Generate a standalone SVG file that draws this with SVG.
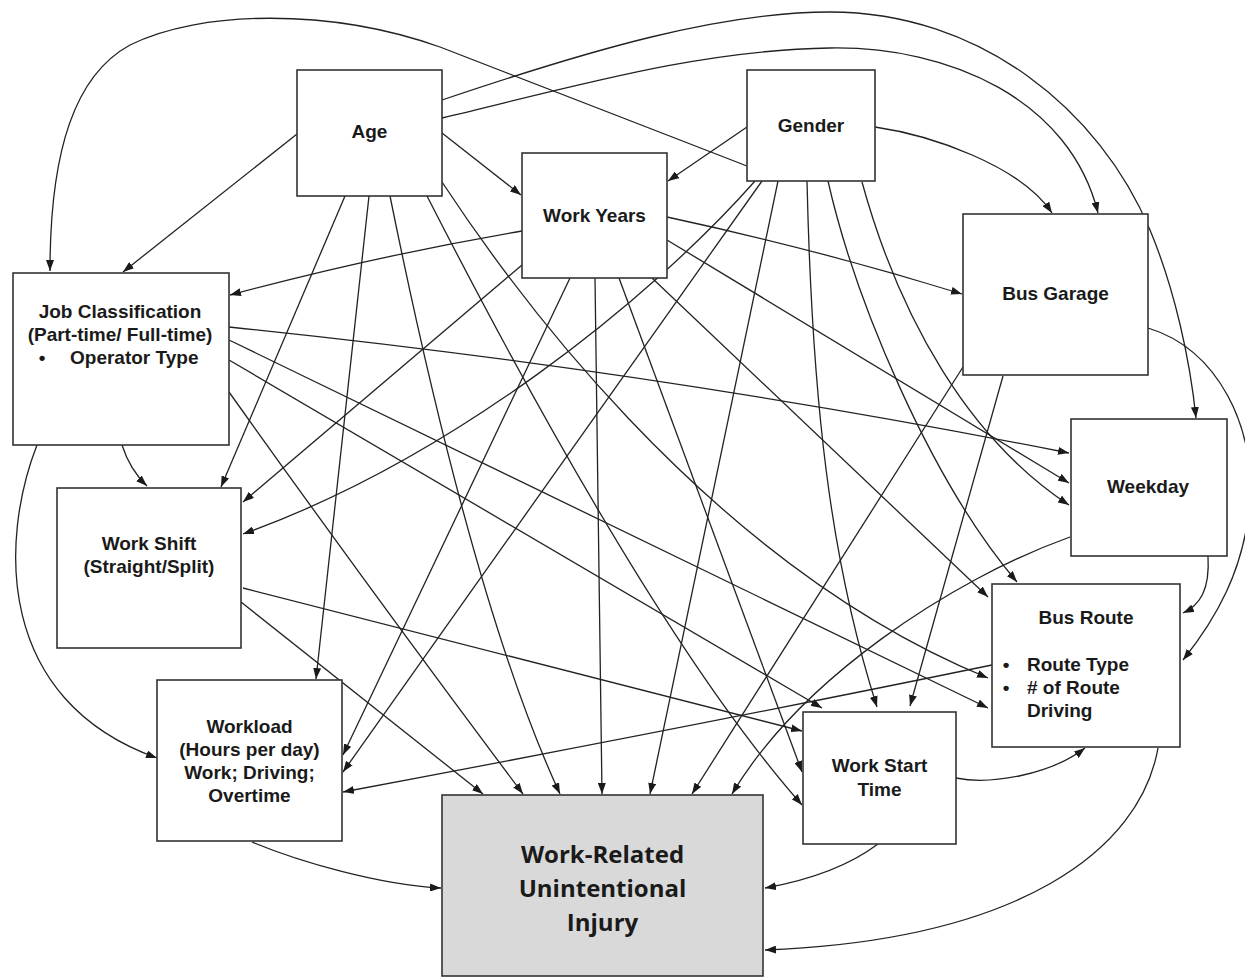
<svg xmlns="http://www.w3.org/2000/svg" width="1245" height="980" viewBox="0 0 1245 980">
<defs>
<marker id="ah" markerUnits="userSpaceOnUse" markerWidth="11" markerHeight="8" refX="11" refY="4" orient="auto">
<path d="M0,0 L11,4 L0,8 z" fill="#1a1a1a"/>
</marker>
<style>
.box{fill:#fff;stroke:#333;stroke-width:1.6}
.inj{fill:#d9d9d9;stroke:#333;stroke-width:1.6}
.t{font-family:"Liberation Sans",Arial,sans-serif;font-weight:bold;font-size:19px;fill:#1a1a1a}
.c{text-anchor:middle}
.ti{font-family:"Open Sans","Noto Sans",sans-serif;font-weight:bold;font-size:24px;fill:#1a1a1a;text-anchor:middle}
.e path{fill:none;stroke:#222;stroke-width:1.3;marker-end:url(#ah)}
</style>
</defs>
<rect width="1245" height="980" fill="#fff"/>
<g class="e" id="connectors">
<path d="M747,166 L440,47 C330,8 200,10 130,45 C75,75 50,150 50,271"/>
<path d="M297,134 L123,272"/>
<path d="M442,133 L521,195"/>
<path d="M442,118 C580,85 700,50 830,48 C950,46 1070,100 1098,213"/>
<path d="M442,100 C590,50 720,12 830,12 C980,12 1100,110 1150,230 C1175,290 1190,360 1196,418"/>
<path d="M747,127 L668,181"/>
<path d="M875,127 C930,135 1020,165 1052,213"/>
<path d="M345,196 L221,487"/>
<path d="M369,196 L316,679"/>
<path d="M390,196 Q473,606 560,794"/>
<path d="M427,196 Q651,634 802,805"/>
<path d="M442,182 C500,270 700,560 988,678"/>
<path d="M522,231 Q380,255 230,295"/>
<path d="M522,265 L243,502"/>
<path d="M570,278 L343,755"/>
<path d="M595,278 L602,794"/>
<path d="M619,278 L802,772"/>
<path d="M652,278 L988,597"/>
<path d="M667,240 L1069,483"/>
<path d="M667,217 Q820,250 962,294"/>
<path d="M755,181 C650,300 450,460 243,534"/>
<path d="M762,181 L343,772"/>
<path d="M778,181 L650,794"/>
<path d="M807,181 C812,400 830,560 877,707"/>
<path d="M828,181 C855,300 930,480 1017,582"/>
<path d="M862,182 C900,320 970,440 1069,505"/>
<path d="M229,327 Q650,370 1069,453"/>
<path d="M229,340 L988,708"/>
<path d="M229,360 L822,708"/>
<path d="M229,392 Q370,590 523,794"/>
<path d="M122,445 Q130,470 147,486"/>
<path d="M37,445 C0,540 -5,700 157,758"/>
<path d="M241,602 L483,794"/>
<path d="M243,588 L802,731"/>
<path d="M252,842 C300,862 380,885 441,888"/>
<path d="M963,367 L692,794"/>
<path d="M1003,376 L910,706"/>
<path d="M1148,328 C1220,350 1255,430 1250,500 C1245,570 1215,620 1183,660"/>
<path d="M1208,556 C1210,590 1200,605 1183,613"/>
<path d="M1070,537 C950,580 800,680 732,794"/>
<path d="M992,665 Q700,725 343,792"/>
<path d="M1158,748 C1140,850 1020,940 765,950"/>
<path d="M956,778 C990,785 1050,775 1085,748"/>
<path d="M878,844 C850,865 810,880 765,888"/>
</g>
<g id="n-age"><rect class="box" x="297" y="70" width="145" height="126"/><text class="t c" x="369.5" y="138">Age</text></g>
<g id="n-gender"><rect class="box" x="747" y="70" width="128" height="111"/><text class="t c" x="811" y="132">Gender</text></g>
<g id="n-workyears"><rect class="box" x="522" y="153" width="145" height="125"/><text class="t c" x="594.5" y="222">Work Years</text></g>
<g id="n-busgarage"><rect class="box" x="963" y="214" width="185" height="161"/><text class="t c" x="1055.5" y="300">Bus Garage</text></g>
<g id="n-jobclass"><rect class="box" x="13" y="273" width="216" height="172"/>
<text class="t c" x="120" y="318">Job Classification</text>
<text class="t c" x="120" y="341">(Part-time/ Full-time)</text>
<text class="t c" x="42" y="364">•</text><text class="t" x="70" y="364">Operator Type</text></g>
<g id="n-weekday"><rect class="box" x="1071" y="419" width="156" height="137"/><text class="t c" x="1148" y="493">Weekday</text></g>
<g id="n-workshift"><rect class="box" x="57" y="488" width="184" height="160"/>
<text class="t c" x="149" y="550">Work Shift</text>
<text class="t c" x="149" y="573">(Straight/Split)</text></g>
<g id="n-busroute"><rect class="box" x="992" y="584" width="188" height="163"/>
<text class="t c" x="1086" y="624">Bus Route</text>
<text class="t c" x="1006" y="671">•</text><text class="t" x="1027" y="671">Route Type</text>
<text class="t c" x="1006" y="694">•</text><text class="t" x="1027" y="694"># of Route</text>
<text class="t" x="1027" y="717">Driving</text></g>
<g id="n-workload"><rect class="box" x="157" y="680" width="185" height="161"/>
<text class="t c" x="249.5" y="733">Workload</text>
<text class="t c" x="249.5" y="756">(Hours per day)</text>
<text class="t c" x="249.5" y="779">Work; Driving;</text>
<text class="t c" x="249.5" y="802">Overtime</text></g>
<g id="n-wst"><rect class="box" x="803" y="712" width="153" height="132"/>
<text class="t c" x="879.5" y="772">Work Start</text>
<text class="t c" x="879.5" y="796">Time</text></g>
<g id="n-injury"><rect class="inj" x="442" y="795" width="321" height="181"/>
<text class="ti" x="602.5" y="863">Work-Related</text>
<text class="ti" x="602.5" y="897">Unintentional</text>
<text class="ti" x="602.5" y="931">Injury</text></g>
</svg>
